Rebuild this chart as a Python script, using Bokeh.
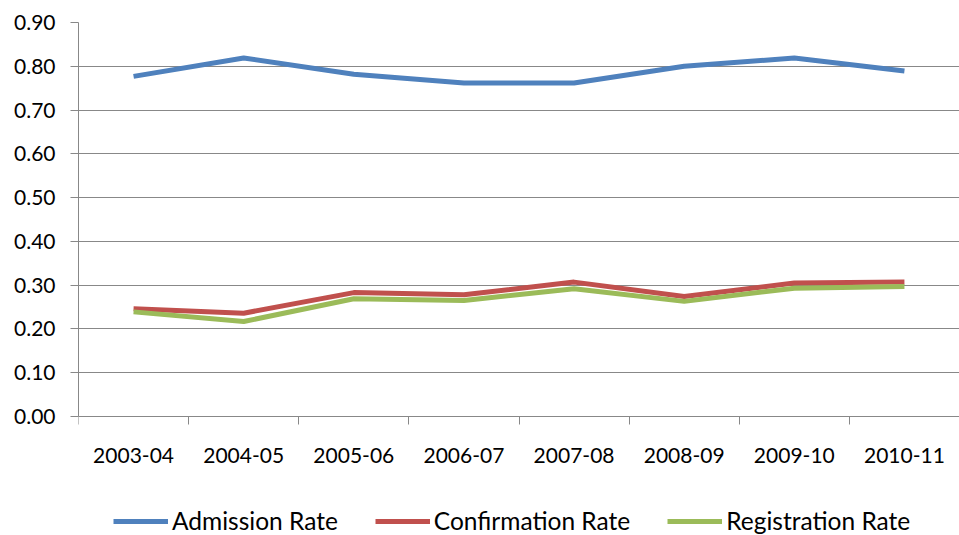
from bokeh.plotting import figure
from bokeh.models import Range1d, FixedTicker, NumeralTickFormatter, Legend, LegendItem
from bokeh.embed import file_html
from bokeh.resources import INLINE

years = ["2003-04", "2004-05", "2005-06", "2006-07", "2007-08", "2008-09", "2009-10", "2010-11"]
admission = [0.777, 0.819, 0.782, 0.762, 0.762, 0.800, 0.819, 0.789]
confirmation = [0.246, 0.236, 0.283, 0.278, 0.307, 0.274, 0.305, 0.307]
registration = [0.239, 0.217, 0.269, 0.265, 0.292, 0.263, 0.293, 0.297]
y_ticks = [0.0, 0.1, 0.2, 0.3, 0.4, 0.5, 0.6, 0.7, 0.8, 0.9]

FONT = "Lato"
GRID = "#888888"

xs = list(range(len(years)))

# frame extends below the x axis to host the legend; the x axis sits at y = 0
p = figure(width=959, height=535, output_backend="svg", toolbar_location=None,
           x_range=Range1d(-0.5, 7.5), y_range=Range1d(-0.2718, 0.9),
           min_border_left=78, min_border_top=22, min_border_right=0, min_border_bottom=0)
p.outline_line_color = None
p.background_fill_color = "white"
p.border_fill_color = "white"

# y axis
p.yaxis.ticker = FixedTicker(ticks=y_ticks)
p.yaxis.bounds = (0, 0.9)
p.yaxis.formatter = NumeralTickFormatter(format="0.00")
p.yaxis.major_label_text_font = FONT
p.yaxis.major_label_text_font_size = "21px"
p.yaxis.major_label_text_color = "#000000"
p.yaxis.axis_line_color = GRID
p.yaxis.major_tick_line_color = GRID
p.yaxis.major_tick_out = 8
p.yaxis.major_tick_in = 0
p.yaxis.minor_tick_line_color = None
p.yaxis.major_label_standoff = 15

# x axis
p.xaxis.fixed_location = 0
p.xaxis.ticker = FixedTicker(ticks=xs, minor_ticks=[i - 0.5 for i in range(len(years) + 1)])
p.xaxis.major_label_overrides = {i: y for i, y in enumerate(years)}
p.xaxis.major_label_text_font = FONT
p.xaxis.major_label_text_font_size = "21px"
p.xaxis.major_label_text_color = "#000000"
p.xaxis.axis_line_color = GRID
p.xaxis.major_tick_line_color = None
p.xaxis.minor_tick_line_color = GRID
p.xaxis.minor_tick_out = 8
p.xaxis.minor_tick_in = 0
p.xaxis.major_label_standoff = 23

p.xgrid.grid_line_color = None
p.ygrid.ticker = FixedTicker(ticks=y_ticks)
p.ygrid.grid_line_color = GRID
p.ygrid.grid_line_width = 1

r1 = p.line(xs, admission, line_color="#4F81BD", line_width=5)
r2 = p.line(xs, confirmation, line_color="#C0504D", line_width=5)
r3 = p.line(xs, registration, line_color="#9BBB59", line_width=5)

legend = Legend(items=[LegendItem(label="Admission Rate", renderers=[r1]),
                       LegendItem(label="Confirmation Rate", renderers=[r2]),
                       LegendItem(label="Registration Rate", renderers=[r3])],
                orientation="horizontal", location=(35, 0),
                glyph_width=55, glyph_height=20, label_standoff=4, spacing=37,
                padding=0, margin=0, border_line_color=None, background_fill_alpha=0,
                label_text_font=FONT, label_text_font_size="24.5px", label_text_color="#000000",
                label_height=20)
p.add_layout(legend)

open("out.html", "w").write(file_html(p, INLINE))
